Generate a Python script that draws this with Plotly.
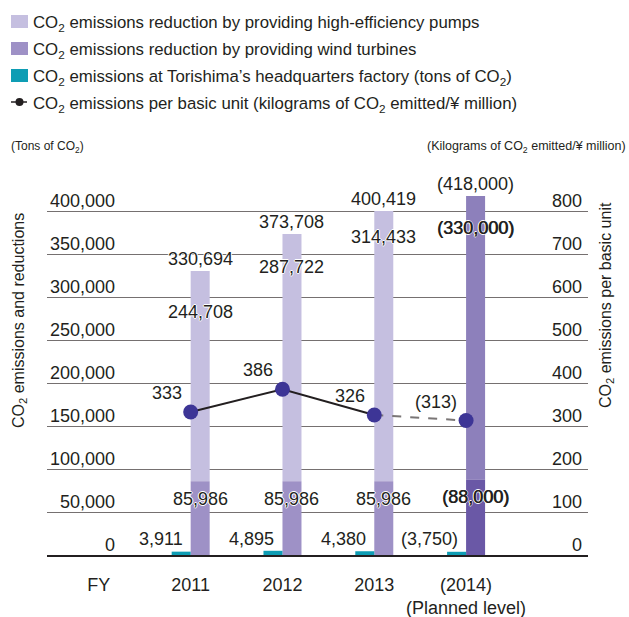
import plotly.graph_objects as go

# ---- data -------------------------------------------------------------
years = ["2011", "2012", "2013", "2014"]
planned = [False, False, False, True]
pumps = [244708, 287722, 314433, 330000]      # reduction via high-efficiency pumps (t)
wind = [85986, 85986, 85986, 88000]           # reduction via wind turbines (t)
factory = [3911, 4895, 4380, 3750]            # HQ factory emissions (t)
per_unit = [333, 386, 326, 313]               # kg CO2 per ¥ million
left_ticks = [0, 50000, 100000, 150000, 200000, 250000, 300000, 350000, 400000]
right_ticks = [0, 100, 200, 300, 400, 500, 600, 700, 800]

# ---- styling ------------------------------------------------------------
FONT = "Liberation Sans, Arial, sans-serif"
NARROW = "Liberation Sans Narrow, Arial Narrow, Liberation Sans, Arial, sans-serif"
INK = "#231f20"
GRID = "#757070"
C_PUMP, C_PUMP_PLAN = "#c5bfe0", "#8d80bb"
C_WIND, C_WIND_PLAN = "#9e91c6", "#6a58a6"
C_FACTORY = "#0e9db4"
C_MARK = "#3d3596"
W = 0.207                                      # bar width in category units
pump_label_drop = [41, 33, 26, 32]             # px below the bar top
HALO = "1px 0 0 #fff, -1px 0 0 #fff, 0 1px 0 #fff, 0 -1px 0 #fff"
HALO_BOLD = "0.6px 0 0 " + INK + ", " + HALO

# figure geometry (px)
FIG_W, FIG_H = 629, 617
M_L, M_R, M_T, M_B = 47, 41, 177, 62
PLOT_W = FIG_W - M_L - M_R
PLOT_H = FIG_H - M_T - M_B


def px_x(px):
    return (px - M_L) / PLOT_W


def px_y(py):
    return (FIG_H - M_B - py) / PLOT_H


xs = list(range(1, len(years) + 1))
totals = [p + w for p, w in zip(pumps, wind)]


def fmt(v, plan):
    s = f"{v:,}"
    return f"({s})" if plan else s


CO2 = "CO<sub>2</sub>"

fig = go.Figure()

fig.add_trace(go.Bar(
    x=xs, y=pumps, base=wind, offset=0, width=W,
    marker=dict(color=[C_PUMP_PLAN if p else C_PUMP for p in planned], line_width=0),
    name="High-efficiency pumps", hoverinfo="skip",
))
fig.add_trace(go.Bar(
    x=xs, y=wind, offset=0, width=W,
    marker=dict(color=[C_WIND_PLAN if p else C_WIND for p in planned], line_width=0),
    name="Wind turbines", hoverinfo="skip",
))
fig.add_trace(go.Bar(
    x=xs, y=factory, offset=-W, width=W,
    marker=dict(color=C_FACTORY, line_width=0),
    name="Headquarters factory", hoverinfo="skip",
))

# per-unit line: actual years solid, planned year dashed
n_act = sum(1 for p in planned if not p)
fig.add_trace(go.Scatter(
    x=xs[:n_act], y=per_unit[:n_act], yaxis="y2", mode="lines",
    line=dict(color=INK, width=2), hoverinfo="skip",
))
fig.add_trace(go.Scatter(
    x=xs[n_act - 1:], y=per_unit[n_act - 1:], yaxis="y2", mode="lines",
    line=dict(color="#7a7676", width=2, dash="dash"), hoverinfo="skip",
))
fig.add_trace(go.Scatter(
    x=xs, y=per_unit, yaxis="y2", mode="markers",
    marker=dict(color=C_MARK, size=15), hoverinfo="skip",
))

ann = []
shapes = []
lab = dict(family=FONT, size=18, color=INK)

# axis value labels sitting on top of the gridlines
for v in left_ticks:
    ann.append(dict(xref="paper", x=0, xshift=70, xanchor="right",
                    yref="y", y=v, yanchor="bottom", yshift=-2,
                    text=f"{v:,}", showarrow=False, font=lab))
for v in right_ticks:
    ann.append(dict(xref="paper", x=1, xshift=-4, xanchor="right",
                    yref="y2", y=v, yanchor="bottom", yshift=-2,
                    text=f"{v:,}", showarrow=False, font=lab))

# bar value labels
for i, x in enumerate(xs):
    plan = planned[i]
    ann.append(dict(x=x + W / 2, y=totals[i], yref="y", yshift=12, yanchor="middle",
                    text=fmt(totals[i], plan), showarrow=False,
                    font=dict(lab, shadow=HALO)))
    ann.append(dict(x=x + W / 2, y=totals[i], yref="y", yshift=-pump_label_drop[i],
                    yanchor="middle", text=fmt(pumps[i], plan), showarrow=False,
                    font=dict(lab, shadow=HALO_BOLD if plan else HALO)))
    ann.append(dict(x=x + W / 2, y=wind[i], yref="y", yshift=-18, yanchor="middle",
                    text=fmt(wind[i], plan), showarrow=False,
                    font=dict(lab, shadow=HALO_BOLD if plan else HALO)))
    ann.append(dict(x=x, xshift=-6, xanchor="right", y=0, yref="y", yshift=16,
                    yanchor="middle", text=fmt(factory[i], plan), showarrow=False,
                    font=dict(lab, shadow=HALO)))
    ann.append(dict(x=x, xshift=-7, xanchor="right", y=per_unit[i], yref="y2",
                    yshift=19, yanchor="middle", text=fmt(per_unit[i], plan),
                    showarrow=False, font=dict(lab, shadow=HALO)))

# axis titles and units
ann += [
    dict(xref="paper", x=px_x(19), xanchor="center", yref="paper", y=px_y(321),
         yanchor="middle", textangle=-90,
         text=f"{CO2} emissions and reductions", showarrow=False,
         font=dict(family=FONT, size=16, color=INK)),
    dict(xref="paper", x=px_x(606), xanchor="center", yref="paper", y=px_y(305),
         yanchor="middle", textangle=-90,
         text=f"{CO2} emissions per basic unit", showarrow=False,
         font=dict(family=FONT, size=16, color=INK)),
    dict(xref="paper", x=px_x(9), xanchor="left", yref="paper", y=px_y(147),
         yanchor="middle", text=f"(Tons of {CO2})", showarrow=False,
         font=dict(family=NARROW, size=12, color=INK)),
    dict(xref="paper", x=px_x(628), xanchor="right", yref="paper", y=px_y(147),
         yanchor="middle", text=f"(Kilograms of {CO2} emitted/¥ million)", showarrow=False,
         font=dict(family=NARROW, size=12.5, color=INK)),
]

# legend: swatch + label rows
legend_rows = [
    ("box", C_PUMP, f"{CO2} emissions reduction by providing high-efficiency pumps"),
    ("box", C_WIND, f"{CO2} emissions reduction by providing wind turbines"),
    ("box", C_FACTORY, f"{CO2} emissions at Torishima’s headquarters factory (tons of {CO2})"),
    ("line", INK, f"{CO2} emissions per basic unit (kilograms of {CO2} emitted/¥ million)"),
]
row_y = [21.5, 48.5, 75.5, 102]
for (kind, col, txt), cy in zip(legend_rows, row_y):
    if kind == "box":
        shapes.append(dict(type="rect", xref="paper", yref="paper",
                           x0=px_x(11), x1=px_x(28), y0=px_y(cy - 6.5), y1=px_y(cy + 6.5),
                           fillcolor=col, line_width=0))
    else:
        shapes.append(dict(type="line", xref="paper", yref="paper",
                           x0=px_x(11), x1=px_x(27), y0=px_y(cy), y1=px_y(cy),
                           line=dict(color=col, width=1.5)))
        shapes.append(dict(type="circle", xref="paper", yref="paper",
                           x0=px_x(15.5), x1=px_x(23.5), y0=px_y(cy - 4), y1=px_y(cy + 4),
                           fillcolor=col, line_width=0))
    ann.append(dict(xref="paper", x=px_x(31), xanchor="left", yref="paper",
                    y=px_y(cy + 2), yanchor="middle", text=txt, showarrow=False,
                    font=dict(family=FONT, size=16.8, color=INK)))

fig.update_layout(
    width=FIG_W, height=FIG_H,
    margin=dict(l=M_L, r=M_R, t=M_T, b=M_B, autoexpand=False),
    paper_bgcolor="white", plot_bgcolor="white",
    barmode="overlay",
    font=dict(family=FONT, color=INK),
    showlegend=False,
    xaxis=dict(range=[-0.565, 5.328], tickvals=[0] + xs,
               ticktext=["FY"] + [f"({y})<br>(Planned level)" if p else y
                                  for y, p in zip(years, planned)],
               tickfont=dict(family=FONT, size=18, color=INK),
               showgrid=False, zeroline=False, showline=True, linecolor=INK,
               linewidth=2, ticks="", ticklabelstandoff=12),
    yaxis=dict(range=[0, 440000], tickvals=left_ticks, showticklabels=False,
               gridcolor=GRID, gridwidth=1, zeroline=False, showline=False, ticks=""),
    yaxis2=dict(range=[0, 880], overlaying="y", side="right", showgrid=False,
                showticklabels=False, zeroline=False, showline=False, ticks=""),
    annotations=ann,
    shapes=shapes,
)

fig.write_html("out.html")
